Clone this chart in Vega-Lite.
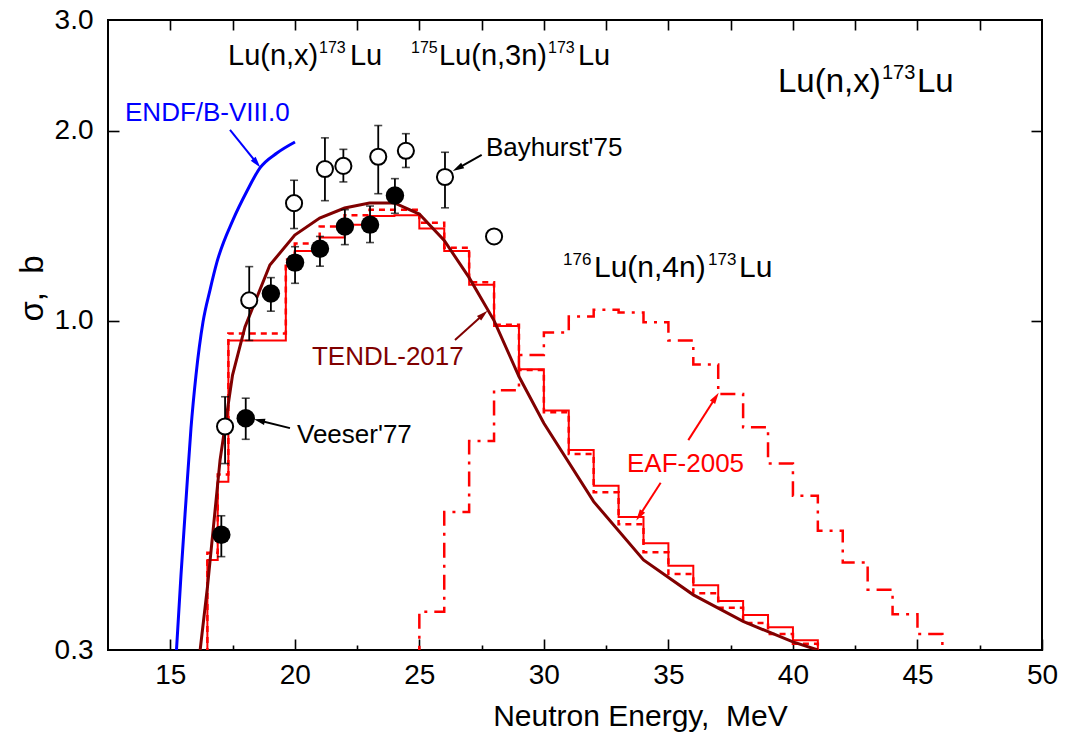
{
  "$schema": "https://vega.github.io/schema/vega-lite/v6.json",
  "width": 934,
  "height": 630,
  "autosize": {"type": "none"},
  "padding": {"left": 108, "top": 20, "right": 23, "bottom": 85},
  "background": "white",
  "config": {
    "font": "Liberation Sans",
    "view": {"stroke": "#000000", "strokeWidth": 2},
    "axis": {"grid": false, "domain": false, "labelColor": "#000000", "titleColor": "#000000", "tickColor": "#000000", "labelFont": "Liberation Sans", "titleFont": "Liberation Sans", "titleFontWeight": "normal"},
    "text": {"font": "Liberation Sans"}
  },
  "datasets": {
    "ndf": [
      {"x": 15.25, "y": 0.300}, {"x": 15.431, "y": 0.3947}, {"x": 15.632, "y": 0.519}, {"x": 15.832, "y": 0.675},
      {"x": 16.033, "y": 0.8195}, {"x": 16.314, "y": 0.9948}, {"x": 16.595, "y": 1.118}, {"x": 16.876, "y": 1.239},
      {"x": 17.519, "y": 1.445}, {"x": 18.081, "y": 1.606}, {"x": 18.603, "y": 1.747}, {"x": 19.285, "y": 1.845},
      {"x": 20.008, "y": 1.921}
    ],
    "tendl": [
      {"x": 16.2, "y": 0.30}, {"x": 16.5, "y": 0.380}, {"x": 17.0, "y": 0.601}, {"x": 17.5, "y": 0.8195},
      {"x": 18.0, "y": 0.977}, {"x": 19.0, "y": 1.225}, {"x": 20.0, "y": 1.367}, {"x": 21.0, "y": 1.455},
      {"x": 22.0, "y": 1.509}, {"x": 23.0, "y": 1.537}, {"x": 24.0, "y": 1.537}, {"x": 25.0, "y": 1.476},
      {"x": 26.0, "y": 1.34}, {"x": 27.0, "y": 1.17}, {"x": 28.0, "y": 1.0}, {"x": 29.0, "y": 0.815},
      {"x": 30.0, "y": 0.687}, {"x": 32.0, "y": 0.516}, {"x": 34.0, "y": 0.417}, {"x": 36.0, "y": 0.367},
      {"x": 38.0, "y": 0.333}, {"x": 40.0, "y": 0.309}, {"x": 41.0, "y": 0.30}
    ],
    "eaf_s": [
      {"x": 15.68, "y": 0.25}, {"x": 16.49, "y": 0.417}, {"x": 16.905, "y": 0.555}, {"x": 17.333, "y": 0.93},
      {"x": 19.64, "y": 1.22}, {"x": 20, "y": 1.29}, {"x": 21, "y": 1.355}, {"x": 22, "y": 1.42},
      {"x": 23, "y": 1.465}, {"x": 24, "y": 1.47}, {"x": 25, "y": 1.40}, {"x": 26, "y": 1.29},
      {"x": 27, "y": 1.14}, {"x": 28, "y": 0.98}, {"x": 29, "y": 0.837}, {"x": 30, "y": 0.72},
      {"x": 31, "y": 0.623}, {"x": 32, "y": 0.547}, {"x": 33, "y": 0.488}, {"x": 34, "y": 0.443},
      {"x": 35, "y": 0.408}, {"x": 36, "y": 0.380}, {"x": 37, "y": 0.359}, {"x": 38, "y": 0.341},
      {"x": 39, "y": 0.326}, {"x": 40, "y": 0.311}, {"x": 41, "y": 0.25}
    ],
    "eaf_d": [
      {"x": 15.68, "y": 0.25}, {"x": 16.49, "y": 0.428}, {"x": 16.905, "y": 0.57}, {"x": 17.333, "y": 0.954},
      {"x": 19.64, "y": 1.25}, {"x": 20, "y": 1.326}, {"x": 21, "y": 1.41}, {"x": 22, "y": 1.47},
      {"x": 23, "y": 1.50}, {"x": 24, "y": 1.50}, {"x": 25, "y": 1.43}, {"x": 26, "y": 1.305},
      {"x": 27, "y": 1.15}, {"x": 28, "y": 0.985}, {"x": 29, "y": 0.835}, {"x": 30, "y": 0.715},
      {"x": 31, "y": 0.614}, {"x": 32, "y": 0.534}, {"x": 33, "y": 0.475}, {"x": 34, "y": 0.429},
      {"x": 35, "y": 0.396}, {"x": 36, "y": 0.369}, {"x": 37, "y": 0.350}, {"x": 38, "y": 0.331},
      {"x": 39, "y": 0.318}, {"x": 40, "y": 0.307}, {"x": 41, "y": 0.25}
    ],
    "eaf_dd": [
      {"x": 24, "y": 0.25}, {"x": 25, "y": 0.345}, {"x": 26, "y": 0.497}, {"x": 27, "y": 0.644},
      {"x": 28, "y": 0.775}, {"x": 29, "y": 0.882}, {"x": 30, "y": 0.957}, {"x": 31, "y": 1.015},
      {"x": 32, "y": 1.04}, {"x": 33, "y": 1.03}, {"x": 34, "y": 0.994}, {"x": 35, "y": 0.93},
      {"x": 36, "y": 0.852}, {"x": 37, "y": 0.765}, {"x": 38, "y": 0.677}, {"x": 39, "y": 0.593},
      {"x": 40, "y": 0.527}, {"x": 41, "y": 0.464}, {"x": 42, "y": 0.413}, {"x": 43, "y": 0.374},
      {"x": 44, "y": 0.342}, {"x": 45, "y": 0.318}, {"x": 46, "y": 0.25}
    ],
    "bay": [
      {"x": 17.2, "y": 0.679, "lo": 0.593, "hi": 0.757},
      {"x": 18.17, "y": 1.077, "lo": 0.93, "hi": 1.218},
      {"x": 19.97, "y": 1.536, "lo": 1.40, "hi": 1.67},
      {"x": 21.21, "y": 1.74, "lo": 1.55, "hi": 1.95},
      {"x": 21.95, "y": 1.76, "lo": 1.66, "hi": 1.87},
      {"x": 23.35, "y": 1.82, "lo": 1.59, "hi": 2.04},
      {"x": 24.46, "y": 1.86, "lo": 1.75, "hi": 1.98},
      {"x": 26.03, "y": 1.69, "lo": 1.51, "hi": 1.85},
      {"x": 28.0, "y": 1.36, "lo": 1.36, "hi": 1.36}
    ],
    "vee": [
      {"x": 17.05, "y": 0.457, "lo": 0.422, "hi": 0.49},
      {"x": 18.03, "y": 0.70, "lo": 0.648, "hi": 0.753},
      {"x": 19.04, "y": 1.104, "lo": 1.035, "hi": 1.17},
      {"x": 20.01, "y": 1.236, "lo": 1.146, "hi": 1.31},
      {"x": 21.01, "y": 1.30, "lo": 1.22, "hi": 1.36},
      {"x": 22.01, "y": 1.41, "lo": 1.32, "hi": 1.50},
      {"x": 23.02, "y": 1.42, "lo": 1.33, "hi": 1.52},
      {"x": 24.02, "y": 1.58, "lo": 1.48, "hi": 1.68}
    ],
    "arrows": [
      {"x": 17.398, "y": 2.007, "hx": 18.474, "hy": 1.778, "ang": 141, "c": "b"},
      {"x": 27.504, "y": 1.832, "hx": 26.54, "hy": 1.745, "ang": 241, "c": "k"},
      {"x": 19.807, "y": 0.675, "hx": 18.571, "hy": 0.694, "ang": 284, "c": "k"},
      {"x": 26.432, "y": 0.9315, "hx": 27.568, "hy": 1.0227, "ang": 48, "c": "d"},
      {"x": 34.69, "y": 0.553, "hx": 33.835, "hy": 0.490, "ang": 213, "c": "r"},
      {"x": 35.799, "y": 0.646, "hx": 36.895, "hy": 0.755, "ang": 33, "c": "r"}
    ],
    "ann": [
      {"x": 13.183, "y": 2.135, "t": "ENDF/B-VIII.0", "c": "b"},
      {"x": 27.677, "y": 1.879, "t": "Bayhurst'75", "c": "k"},
      {"x": 20.088, "y": 0.6585, "t": "Veeser'77", "c": "k"},
      {"x": 20.69, "y": 0.8754, "t": "TENDL-2017", "c": "d"},
      {"x": 33.338, "y": 0.592, "t": "EAF-2005", "c": "r"}
    ],
    "tmain": [
      {"x": 17.318, "y": 2.545, "t": "Lu(n,x)"},
      {"x": 22.216, "y": 2.545, "t": "Lu"},
      {"x": 25.789, "y": 2.545, "t": "Lu(n,3n)"},
      {"x": 31.37, "y": 2.545, "t": "Lu"}
    ],
    "tsup": [
      {"x": 20.971, "y": 2.659, "t": "173"},
      {"x": 24.665, "y": 2.659, "t": "175"},
      {"x": 30.166, "y": 2.659, "t": "173"}
    ],
    "t176": [
      {"x": 32.012, "y": 1.173, "t": "Lu(n,4n)"},
      {"x": 37.834, "y": 1.173, "t": "Lu"}
    ],
    "t176sup": [
      {"x": 30.768, "y": 1.225, "t": "176"},
      {"x": 36.59, "y": 1.225, "t": "173"}
    ],
    "tright": [
      {"x": 39.40, "y": 2.306, "t": "Lu(n,x)"},
      {"x": 44.981, "y": 2.306, "t": "Lu"}
    ],
    "trsup": [
      {"x": 43.576, "y": 2.418, "t": "173"}
    ]
  },
  "resolve": {"axis": {"x": "independent", "y": "independent"}},
  "layer": [
    {
      "data": {"name": "eaf_dd"},
      "mark": {"type": "line", "interpolate": "step-after", "color": "#ff0000", "strokeWidth": 2.5, "strokeDash": [15, 7, 3, 7], "clip": true},
      "encoding": {
        "x": {"field": "x", "type": "quantitative", "scale": {"type": "linear", "domain": [12.5, 50], "nice": false, "zero": false},
          "axis": {"orient": "bottom", "values": [15, 20, 25, 30, 35, 40, 45, 50], "ticks": false, "domain": false, "labelFontSize": 28, "labelPadding": 11, "labelFlush": false, "labelOverlap": false, "title": "Neutron Energy,\u00a0 MeV", "titleFontSize": 30, "titleX": 532, "titleY": 75, "titleBaseline": "alphabetic", "titleAlign": "center"}},
        "y": {"field": "y", "type": "quantitative", "scale": {"type": "log", "domain": [0.3, 3], "nice": false},
          "axis": {"orient": "left", "values": [0.3, 1, 2, 3], "format": ".1f", "ticks": false, "domain": false, "labelFontSize": 28, "labelPadding": 15, "labelOverlap": false, "title": "σ,\u00a0 b", "titleFontSize": 33, "titleX": -66, "titleY": 268, "titleAngle": 270, "titleBaseline": "alphabetic", "titleAlign": "center"}}
      }
    },
    {
      "data": {"name": "eaf_d"},
      "mark": {"type": "line", "interpolate": "step-after", "color": "#ff0000", "strokeWidth": 2.5, "strokeDash": [6, 5], "clip": true},
      "encoding": {
        "x": {"field": "x", "type": "quantitative", "scale": {"type": "linear", "domain": [12.5, 50], "nice": false, "zero": false},
          "axis": {"orient": "bottom", "values": [15, 20, 25, 30, 35, 40, 45, 50], "ticks": true, "tickSize": -11, "tickWidth": 1.6, "labels": false, "domain": false, "title": null}},
        "y": {"field": "y", "type": "quantitative", "scale": {"type": "log", "domain": [0.3, 3], "nice": false},
          "axis": {"orient": "left", "values": [1, 2], "ticks": true, "tickSize": -11, "tickWidth": 1.6, "labels": false, "domain": false, "title": null}}
      }
    },
    {
      "data": {"name": "eaf_s"},
      "mark": {"type": "line", "interpolate": "step-after", "color": "#ff0000", "strokeWidth": 2, "clip": true},
      "encoding": {
        "x": {"field": "x", "type": "quantitative", "scale": {"type": "linear", "domain": [12.5, 50], "nice": false, "zero": false},
          "axis": {"orient": "bottom", "values": [17.5, 22.5, 27.5, 32.5, 37.5, 42.5, 47.5], "ticks": true, "tickSize": -5, "tickWidth": 1.6, "labels": false, "domain": false, "title": null}},
        "y": {"field": "y", "type": "quantitative", "scale": {"type": "log", "domain": [0.3, 3], "nice": false},
          "axis": {"orient": "right", "values": [1, 2], "ticks": true, "tickSize": -11, "tickWidth": 1.6, "labels": false, "domain": false, "title": null}}
      }
    },
    {
      "data": {"name": "tendl"},
      "mark": {"type": "line", "color": "#800000", "strokeWidth": 3, "clip": true},
      "encoding": {
        "x": {"field": "x", "type": "quantitative", "scale": {"type": "linear", "domain": [12.5, 50], "nice": false, "zero": false},
          "axis": {"orient": "top", "values": [15, 17.5, 20, 22.5, 25, 27.5, 30, 32.5, 35, 37.5, 40, 42.5, 45, 47.5], "ticks": true, "tickSize": -10, "tickWidth": 1.6, "labels": false, "domain": false, "title": null}},
        "y": {"field": "y", "type": "quantitative", "scale": {"type": "log", "domain": [0.3, 3], "nice": false}, "axis": null}
      }
    },
    {
      "data": {"name": "ndf"},
      "mark": {"type": "line", "color": "#0000ff", "strokeWidth": 3, "interpolate": "monotone", "clip": true},
      "encoding": {
        "x": {"field": "x", "type": "quantitative", "axis": null},
        "y": {"field": "y", "type": "quantitative", "axis": null}
      }
    },
    {
      "data": {"name": "bay"},
      "mark": {"type": "errorbar", "ticks": {"size": 8, "thickness": 1.6, "color": "#000000"}, "rule": {"strokeWidth": 1.8, "color": "#000000"}},
      "encoding": {
        "x": {"field": "x", "type": "quantitative", "axis": null},
        "y": {"field": "lo", "type": "quantitative", "axis": null},
        "y2": {"field": "hi"}
      }
    },
    {
      "data": {"name": "vee"},
      "mark": {"type": "errorbar", "ticks": {"size": 8, "thickness": 1.6, "color": "#000000"}, "rule": {"strokeWidth": 1.8, "color": "#000000"}},
      "encoding": {
        "x": {"field": "x", "type": "quantitative", "axis": null},
        "y": {"field": "lo", "type": "quantitative", "axis": null},
        "y2": {"field": "hi"}
      }
    },
    {
      "data": {"name": "bay"},
      "mark": {"type": "point", "shape": "circle", "filled": true, "fill": "#ffffff", "stroke": "#000000", "strokeWidth": 2, "size": 260, "opacity": 1},
      "encoding": {
        "x": {"field": "x", "type": "quantitative", "axis": null},
        "y": {"field": "y", "type": "quantitative", "axis": null}
      }
    },
    {
      "data": {"name": "vee"},
      "mark": {"type": "circle", "color": "#000000", "size": 340, "opacity": 1},
      "encoding": {
        "x": {"field": "x", "type": "quantitative", "axis": null},
        "y": {"field": "y", "type": "quantitative", "axis": null}
      }
    },
    {
      "data": {"name": "arrows"},
      "mark": {"type": "rule", "strokeWidth": 2},
      "encoding": {
        "x": {"field": "x", "type": "quantitative", "axis": null},
        "y": {"field": "y", "type": "quantitative", "axis": null},
        "x2": {"field": "hx"},
        "y2": {"field": "hy"},
        "color": {"field": "c", "type": "nominal", "scale": {"domain": ["k", "b", "d", "r"], "range": ["#000000", "#0000ff", "#800000", "#ff0000"]}, "legend": null}
      }
    },
    {
      "data": {"name": "arrows"},
      "mark": {"type": "point", "shape": "M0,-1L0.55,1L-0.55,1Z", "filled": true, "size": 130, "opacity": 1},
      "encoding": {
        "x": {"field": "hx", "type": "quantitative", "axis": null},
        "y": {"field": "hy", "type": "quantitative", "axis": null},
        "angle": {"field": "ang", "type": "quantitative", "scale": null},
        "color": {"field": "c", "type": "nominal", "scale": {"domain": ["k", "b", "d", "r"], "range": ["#000000", "#0000ff", "#800000", "#ff0000"]}, "legend": null}
      }
    },
    {
      "data": {"name": "ann"},
      "mark": {"type": "text", "fontSize": 26, "align": "left", "baseline": "middle"},
      "encoding": {
        "x": {"field": "x", "type": "quantitative", "axis": null},
        "y": {"field": "y", "type": "quantitative", "axis": null},
        "text": {"field": "t"},
        "color": {"field": "c", "type": "nominal", "scale": {"domain": ["k", "b", "d", "r"], "range": ["#000000", "#0000ff", "#800000", "#ff0000"]}, "legend": null}
      }
    },
    {
      "data": {"name": "tmain"},
      "mark": {"type": "text", "fontSize": 29, "align": "left", "baseline": "alphabetic", "color": "#000000"},
      "encoding": {
        "x": {"field": "x", "type": "quantitative", "axis": null},
        "y": {"field": "y", "type": "quantitative", "axis": null},
        "text": {"field": "t"}
      }
    },
    {
      "data": {"name": "tsup"},
      "mark": {"type": "text", "fontSize": 16, "align": "left", "baseline": "alphabetic", "color": "#000000"},
      "encoding": {
        "x": {"field": "x", "type": "quantitative", "axis": null},
        "y": {"field": "y", "type": "quantitative", "axis": null},
        "text": {"field": "t"}
      }
    },
    {
      "data": {"name": "t176"},
      "mark": {"type": "text", "fontSize": 30, "align": "left", "baseline": "alphabetic", "color": "#000000"},
      "encoding": {
        "x": {"field": "x", "type": "quantitative", "axis": null},
        "y": {"field": "y", "type": "quantitative", "axis": null},
        "text": {"field": "t"}
      }
    },
    {
      "data": {"name": "t176sup"},
      "mark": {"type": "text", "fontSize": 17, "align": "left", "baseline": "alphabetic", "color": "#000000"},
      "encoding": {
        "x": {"field": "x", "type": "quantitative", "axis": null},
        "y": {"field": "y", "type": "quantitative", "axis": null},
        "text": {"field": "t"}
      }
    },
    {
      "data": {"name": "tright"},
      "mark": {"type": "text", "fontSize": 33, "align": "left", "baseline": "alphabetic", "color": "#000000"},
      "encoding": {
        "x": {"field": "x", "type": "quantitative", "axis": null},
        "y": {"field": "y", "type": "quantitative", "axis": null},
        "text": {"field": "t"}
      }
    },
    {
      "data": {"name": "trsup"},
      "mark": {"type": "text", "fontSize": 20, "align": "left", "baseline": "alphabetic", "color": "#000000"},
      "encoding": {
        "x": {"field": "x", "type": "quantitative", "axis": null},
        "y": {"field": "y", "type": "quantitative", "axis": null},
        "text": {"field": "t"}
      }
    }
  ]
}
